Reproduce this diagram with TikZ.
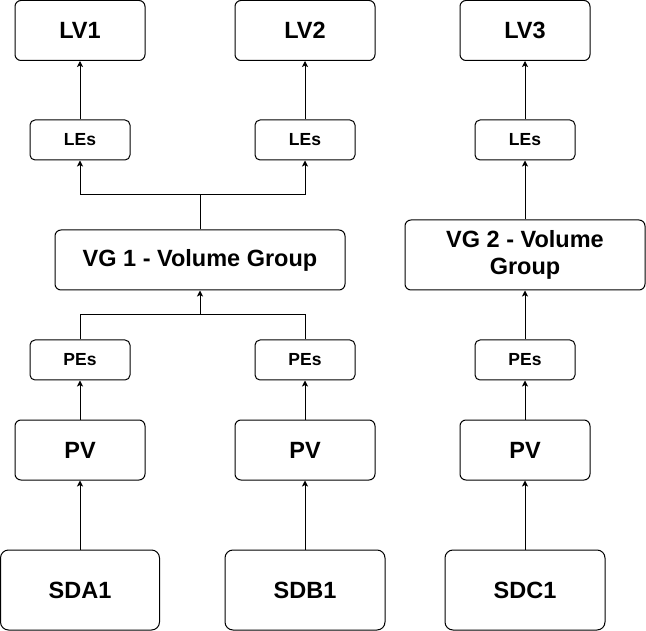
\documentclass[tikz,border=0pt]{standalone}
\usepackage{fontspec}
\setmainfont{Liberation Sans}
\usetikzlibrary{arrows.meta}
\begin{document}
\begin{tikzpicture}[x=1pt,y=-1pt,
  box/.style={draw, rounded corners=6pt, line width=1pt, inner sep=0pt,
    font=\fontsize{23.5}{27.5}\selectfont\bfseries, align=center},
  small/.style={box, rounded corners=5pt, minimum width=100pt, minimum height=40pt,
    font=\fontsize{17.5}{20}\selectfont\bfseries},
  big/.style={box, minimum width=130pt, minimum height=60pt},
  disk/.style={box, rounded corners=8pt, minimum width=159pt, minimum height=80pt},
  arr/.style={line width=1pt, -{Stealth[length=6pt,width=6pt,inset=1.5pt]}},
  ln/.style={line width=1pt}]
\useasboundingbox (0,0) rectangle (646,631);
% top row
\node[big] (lv1) at (80,30.5) {LV1};
\node[big, minimum width=140pt] (lv2) at (305,30.5) {LV2};
\node[big] (lv3) at (525,30.5) {LV3};
% LEs
\node[small] (les1) at (80,140) {LEs};
\node[small] (les2) at (305,140) {LEs};
\node[small] (les3) at (525,140) {LEs};
% VGs
\node[box, minimum width=290pt, minimum height=60pt] (vg1) at (200,260) {VG 1 - Volume Group};
\node[box, minimum width=240pt, minimum height=70pt] (vg2) at (525,255) {VG 2 - Volume\\Group};
% PEs
\node[small] (pes1) at (80,360) {PEs};
\node[small] (pes2) at (305,360) {PEs};
\node[small] (pes3) at (525,360) {PEs};
% PVs
\node[big] (pv1) at (80,450) {PV};
\node[big, minimum width=140pt] (pv2) at (305,450) {PV};
\node[big] (pv3) at (525,450) {PV};
% disks
\node[disk] (sda) at (80,590) {SDA1};
\node[disk, minimum width=160pt] (sdb) at (305,590) {SDB1};
\node[disk, minimum width=160pt] (sdc) at (525,590) {SDC1};
% junction coordinates
\coordinate (jt) at (200,195);
\coordinate (jb) at (200,315);
% connectors
\draw[arr] (les1.north) -- (lv1.south);
\draw[arr] (les2.north) -- (lv2.south);
\draw[arr] (les3.north) -- (lv3.south);
\draw[ln] (vg1.north) -- (jt);
\draw[arr] (jt) -| (les1.south);
\draw[arr] (jt) -| (les2.south);
\draw[arr] (vg2.north) -- (les3.south);
\draw[ln] (pes1.north) |- (jb);
\draw[ln] (pes2.north) |- (jb);
\draw[arr] (jb) -- (vg1.south);
\draw[arr] (pes3.north) -- (vg2.south);
\draw[arr] (pv1.north) -- (pes1.south);
\draw[arr] (pv2.north) -- (pes2.south);
\draw[arr] (pv3.north) -- (pes3.south);
\draw[arr] (sda.north) -- (pv1.south);
\draw[arr] (sdb.north) -- (pv2.south);
\draw[arr] (sdc.north) -- (pv3.south);
\end{tikzpicture}
\end{document}
